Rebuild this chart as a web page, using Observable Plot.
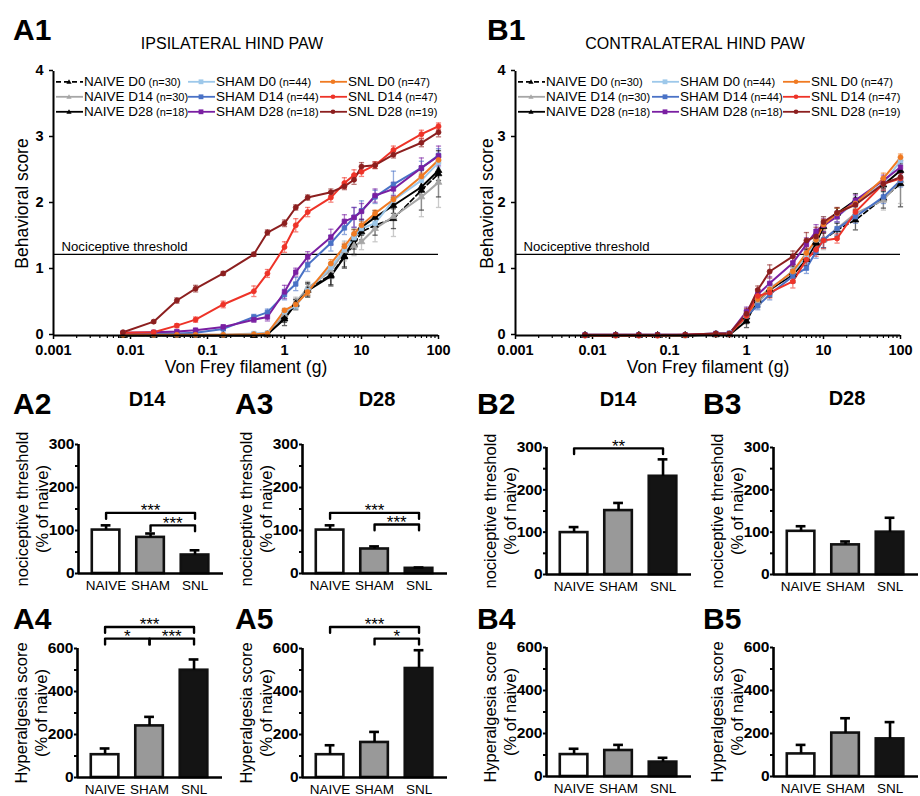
<!DOCTYPE html>
<html>
<head>
<meta charset="utf-8">
<script src="https://cdn.jsdelivr.net/npm/d3@7"></script>
<script src="https://cdn.jsdelivr.net/npm/@observablehq/plot@0.6"></script>
<style>
html,body{margin:0;padding:0;background:#fff;}
#fig{position:relative;width:920px;height:796px;overflow:hidden;font-family:"Liberation Sans",Arial,Helvetica,sans-serif;color:#000;}
#fig > svg{position:absolute;overflow:visible;}
.t{position:absolute;white-space:nowrap;line-height:1;}
.lab{font-weight:bold;font-size:30px;transform:translate(0,-50%);}
.sub{font-weight:bold;font-size:20px;transform:translate(-50%,-50%);}
.ttl{font-size:16px;transform:translate(-50%,-50%);}
.leg{position:absolute;display:flex;align-items:center;white-space:nowrap;height:14px;transform:translate(0,-50%);font-size:13.5px;line-height:1;}
.leg small{font-size:11px;margin-left:3px;}
.leg svg{display:block;margin-right:1px;}
</style>
</head>
<body>
<div id="fig"></div>
<script>
// ---------------- data ----------------
const forces = [0.008, 0.02, 0.04, 0.07, 0.16, 0.4, 0.6, 1, 1.4, 2, 4, 6, 8, 10, 15, 26, 60, 100];
const decadeTicks = [0.001, 0.01, 0.1, 1, 10, 100];
const scoreTicks = [0, 1, 2, 3, 4];
const seriesNames = ["NAIVE D0","NAIVE D14","NAIVE D28","SHAM D0","SHAM D14","SHAM D28","SNL D0","SNL D14","SNL D28"];
const seriesN = [30, 30, 18, 44, 44, 18, 47, 47, 19];
const threshold = 1.23;

const ipsiMean = {
  "NAIVE D0":  [0,0,0,0,0,0,0.01,0.28,0.47,0.70,0.92,1.20,1.38,1.57,1.67,1.77,2.20,2.45],
  "NAIVE D14": [0,0,0,0,0,0,0.01,0.32,0.50,0.72,0.98,1.28,1.36,1.42,1.62,1.80,2.10,2.32],
  "NAIVE D28": [0,0,0,0,0,0,0.02,0.25,0.48,0.68,0.90,1.19,1.46,1.64,1.79,1.97,2.25,2.50],
  "SHAM D0":   [0.02,0.01,0.01,0.01,0.01,0.03,0.04,0.36,0.45,0.68,1.03,1.30,1.48,1.62,1.70,2.05,2.35,2.62],
  "SHAM D14":  [0.03,0.04,0.03,0.04,0.10,0.28,0.35,0.62,0.78,1.07,1.40,1.63,1.79,1.89,2.10,2.29,2.54,2.73],
  "SHAM D28":  [0.04,0.05,0.06,0.08,0.13,0.24,0.28,0.66,0.96,1.19,1.49,1.73,1.79,1.88,2.12,2.22,2.54,2.72],
  "SNL D0":    [0.01,0.01,0.01,0.01,0.01,0.02,0.03,0.38,0.47,0.66,1.09,1.35,1.54,1.67,1.85,2.06,2.41,2.66],
  "SNL D14":   [0.04,0.05,0.15,0.24,0.47,0.67,0.94,1.34,1.67,1.87,2.09,2.31,2.43,2.48,2.58,2.81,3.05,3.17],
  "SNL D28":   [0.05,0.21,0.53,0.71,0.94,1.23,1.56,1.70,1.94,2.09,2.17,2.26,2.36,2.56,2.58,2.74,2.92,3.08]
};
const ipsiErr = {
  "NAIVE D0":  [0,0,0,0,0,0,0.01,0.08,0.08,0.10,0.15,0.18,0.15,0.12,0.15,0.15,0.30,0.35],
  "NAIVE D14": [0,0,0,0,0,0.01,0.02,0.07,0.08,0.10,0.12,0.15,0.15,0.12,0.20,0.30,0.30,0.38],
  "NAIVE D28": [0,0,0,0,0,0,0.02,0.10,0.06,0.10,0.15,0.15,0.15,0.12,0.10,0.12,0.12,0.15],
  "SHAM D0":   [0.01,0.01,0.01,0.01,0.01,0.02,0.02,0.05,0.05,0.06,0.08,0.09,0.09,0.08,0.08,0.09,0.08,0.08],
  "SHAM D14":  [0.01,0.01,0.01,0.01,0.02,0.04,0.05,0.08,0.10,0.10,0.12,0.10,0.15,0.15,0.10,0.20,0.10,0.10],
  "SHAM D28":  [0.01,0.02,0.02,0.03,0.03,0.04,0.06,0.10,0.06,0.08,0.12,0.10,0.15,0.12,0.10,0.10,0.15,0.15],
  "SNL D0":    [0.01,0.01,0.01,0.01,0.01,0.01,0.02,0.03,0.04,0.05,0.06,0.05,0.06,0.06,0.05,0.05,0.05,0.05],
  "SNL D14":   [0.01,0.02,0.03,0.04,0.05,0.08,0.06,0.08,0.10,0.07,0.07,0.08,0.08,0.07,0.05,0.06,0.06,0.05],
  "SNL D28":   [0.01,0.02,0.04,0.05,0.03,0.03,0.04,0.05,0.04,0.04,0.05,0.05,0.07,0.06,0.05,0.05,0.06,0.07]
};
const contraMean = {
  "NAIVE D0":  [0,0,0,0,0,0.02,0.02,0.28,0.52,0.68,0.95,1.18,1.42,1.45,1.60,1.75,2.08,2.30],
  "NAIVE D14": [0,0,0,0,0,0.02,0.02,0.30,0.50,0.68,0.98,1.20,1.45,1.45,1.62,1.85,2.05,2.35],
  "NAIVE D28": [0,0,0,0,0,0.01,0.01,0.22,0.55,0.70,0.92,1.15,1.40,1.65,1.85,2.05,2.28,2.50],
  "SHAM D0":   [0.01,0.01,0.01,0.01,0.01,0.03,0.04,0.30,0.55,0.72,0.95,1.20,1.45,1.70,1.80,2.02,2.30,2.65],
  "SHAM D14":  [0,0,0,0,0,0.02,0.02,0.30,0.45,0.62,0.90,1.02,1.27,1.45,1.62,1.80,2.10,2.35],
  "SHAM D28":  [0.01,0.01,0.01,0.01,0.01,0.03,0.03,0.36,0.62,0.79,1.10,1.38,1.58,1.67,1.80,2.05,2.35,2.55],
  "SNL D0":    [0,0,0,0,0,0.02,0.02,0.30,0.55,0.70,0.97,1.25,1.45,1.68,1.85,2.00,2.38,2.70],
  "SNL D14":   [0,0,0,0,0.01,0.02,0.02,0.30,0.60,0.65,0.82,1.15,1.30,1.44,1.47,1.87,2.30,2.38],
  "SNL D28":   [0.01,0.01,0.01,0.01,0.01,0.03,0.03,0.33,0.69,0.97,1.20,1.44,1.50,1.72,1.86,1.98,2.30,2.40]
};
const contraErr = {
  "NAIVE D0":  [0,0,0,0,0,0,0,0.10,0.08,0.10,0.12,0.12,0.12,0.12,0.10,0.15,0.15,0.35],
  "NAIVE D14": [0,0,0,0,0,0,0,0.08,0.08,0.08,0.10,0.12,0.12,0.15,0.10,0.12,0.15,0.35],
  "NAIVE D28": [0,0,0,0,0,0,0,0.10,0.06,0.08,0.12,0.10,0.10,0.10,0.08,0.10,0.10,0.10],
  "SHAM D0":   [0.01,0,0,0,0,0.01,0.02,0.06,0.06,0.06,0.08,0.08,0.10,0.10,0.08,0.08,0.08,0.06],
  "SHAM D14":  [0,0,0,0,0,0.01,0.02,0.08,0.06,0.08,0.10,0.08,0.10,0.12,0.10,0.10,0.10,0.10],
  "SHAM D28":  [0.01,0,0,0,0,0.01,0.02,0.07,0.08,0.10,0.10,0.10,0.10,0.10,0.08,0.08,0.08,0.08],
  "SNL D0":    [0,0,0,0,0,0.01,0.01,0.06,0.06,0.08,0.10,0.10,0.10,0.08,0.08,0.08,0.08,0.05],
  "SNL D14":   [0,0,0,0,0.01,0.01,0.01,0.06,0.07,0.08,0.10,0.10,0.10,0.12,0.07,0.10,0.10,0.08],
  "SNL D28":   [0.01,0,0,0,0,0.01,0.01,0.08,0.06,0.10,0.08,0.12,0.14,0.08,0.08,0.08,0.08,0.06]
};

const groups = ["NAIVE", "SHAM", "SNL"];
const thrTicks = [0, 100, 200, 300];
const hypTicks = [0, 200, 400, 600];
const a2Mean = [101, 84, 43],  a2Err = [11, 9, 11];
const a3Mean = [101, 57, 12],  a3Err = [11, 6, 2];
const a4Mean = [106, 240, 499], a4Err = [29, 42, 50];
const a5Mean = [106, 163, 507], a5Err = [44, 49, 85];
const b2Mean = [99, 151, 232], b2Err = [13, 18, 40];
const b3Mean = [102, 70, 100], b3Err = [12, 8, 34];
const b4Mean = [102, 121, 67], b4Err = [27, 26, 20];
const b5Mean = [105, 202, 175], b5Err = [42, 69, 78];
// brackets: [fromIndex, toIndex, level, label]
const a2Sig = [[0, 2, 141, "***"], [1, 2, 112, "***"]];
const a3Sig = [[0, 2, 141, "***"], [1, 2, 114, "***"]];
const a4Sig = [[0, 2, 700, "***"], [0, 1, 646, "*"], [1, 2, 646, "***"]];
const a5Sig = [[0, 2, 700, "***"], [1, 2, 646, "*"]];
const b2Sig = [[0, 2, 298, "**"]];

// ---------------- styles ----------------
const seriesColors = ["#000000","#a6a6a6","#000000","#9dc8ea","#4a72c6","#7a1fa2","#f07a22","#ee3328","#8c1f1f"];
const seriesSymbols = [d3.symbolTriangle, d3.symbolTriangle, d3.symbolTriangle, d3.symbolSquare, d3.symbolSquare, d3.symbolSquare, d3.symbolCircle, d3.symbolCircle, d3.symbolCircle];
const groupFills = ["#ffffff", "#999999", "#141414"];
const FONT = "Liberation Sans, Arial, Helvetica, sans-serif";
const fig = document.getElementById("fig");

function place(el, left, top) {
  el.style.position = "absolute";
  el.style.left = left + "px";
  el.style.top = top + "px";
  fig.appendChild(el);
}
function addText(cls, txt, left, top) {
  const d = document.createElement("div");
  d.className = "t " + cls;
  d.textContent = txt;
  d.style.left = left + "px";
  d.style.top = top + "px";
  fig.appendChild(d);
}

const capSym = {draw(ctx, size) { const w = Math.sqrt(size / Math.PI); ctx.moveTo(-w, 0); ctx.lineTo(w, 0); }};
const minorLog = [];
[0.001, 0.01, 0.1, 1, 10].forEach(b => { for (let k = 2; k <= 9; k++) minorLog.push(b * k); });

function linePanel(meanObj, errObj, ml, mr, ylabDx) {
  const rows = [];
  seriesNames.forEach(s => forces.forEach((f, k) => rows.push({series: s, f, v: meanObj[s][k], e: errObj[s][k]})));
  const solid = rows.filter(d => d.series !== "NAIVE D0");
  const dashed = rows.filter(d => d.series === "NAIVE D0");
  const errRows = rows.filter(d => d.e > 0);
  return Plot.plot({
    width: 460, height: 310,
    marginLeft: ml, marginRight: mr, marginTop: 11, marginBottom: 35,
    x: {type: "log", domain: [0.001, 100]},
    y: {domain: [0, 4]},
    color: {domain: seriesNames, range: seriesColors},
    symbol: {domain: seriesNames, range: seriesSymbols},
    style: {fontFamily: FONT, fontSize: "13px", background: "transparent", overflow: "visible"},
    marks: [
      Plot.axisX({ticks: minorLog, tickFormat: () => "", tickSize: 3, strokeWidth: 1.2, label: null}),
      Plot.axisX({ticks: decadeTicks, tickFormat: d => String(d), tickSize: 4, tickPadding: 5, fontWeight: "bold", fontSize: 14.5, strokeWidth: 1.5, label: null}),
      Plot.axisY({ticks: scoreTicks, tickFormat: d => String(d), tickSize: 4, tickPadding: 6, fontWeight: "bold", fontSize: 14.5, strokeWidth: 1.5, label: null, dy: -1}),
      Plot.ruleY([threshold], {strokeWidth: 1.2}),
      Plot.text(["Nociceptive threshold"], {y: [threshold], frameAnchor: "left", dx: 8, dy: -8, textAnchor: "start", lineAnchor: "middle", fontSize: 13.2}),
      Plot.ruleX(errRows, {x: "f", y1: d => d.v - d.e, y2: d => d.v + d.e, stroke: "series", strokeOpacity: 0.6, strokeWidth: 1.3}),
      Plot.dot(errRows, {x: "f", y: d => d.v + d.e, stroke: "series", symbol: capSym, r: 2.6, strokeOpacity: 0.6, strokeWidth: 1.3}),
      Plot.dot(errRows, {x: "f", y: d => d.v - d.e, stroke: "series", symbol: capSym, r: 2.6, strokeOpacity: 0.6, strokeWidth: 1.3}),
      Plot.line(dashed, {x: "f", y: "v", stroke: "series", strokeWidth: 1.7, strokeDasharray: "5,3"}),
      Plot.line(solid, {x: "f", y: "v", z: "series", stroke: "series", strokeWidth: 2}),
      Plot.dot(rows, {x: "f", y: "v", fill: "series", stroke: "series", symbol: "series", r: 2.5, strokeWidth: 0.8}),
      Plot.ruleX([0.001], {strokeWidth: 2}),
      Plot.ruleY([0], {strokeWidth: 2}),
      Plot.text(["Behavioral score"], {frameAnchor: "left", dx: ylabDx, rotate: -90, textAnchor: "middle", lineAnchor: "middle", fontSize: 17.5}),
      Plot.text(["Von Frey filament (g)"], {frameAnchor: "bottom", dy: 32, textAnchor: "middle", lineAnchor: "middle", fontSize: 17.5})
    ]
  });
}

function barPanel(means, errs, sig, ymax, ticks, ylabel, mt, mb, h) {
  const rows = groups.map((g, i) => ({g, i, mean: means[i], err: errs[i]}));
  const drop = ymax * 0.045;
  const br = [];
  sig.forEach((b, k) => {
    br.push({k, x: b[0], y: b[2] - drop}, {k, x: b[0], y: b[2]}, {k, x: b[1], y: b[2]}, {k, x: b[1], y: b[2] - drop});
  });
  const minor = ticks.slice(0, -1).map((t, j) => (t + ticks[j + 1]) / 2);
  return Plot.plot({
    width: 227, height: h,
    marginLeft: 80, marginRight: 2, marginTop: mt, marginBottom: mb,
    x: {domain: [-0.62, 2.64]},
    y: {domain: [0, ymax]},
    color: {domain: groups, range: groupFills},
    style: {fontFamily: FONT, fontSize: "13px", background: "transparent", overflow: "visible"},
    marks: [
      Plot.rectY(rows, {x1: d => d.i - 0.31, x2: d => d.i + 0.31, y1: 0, y2: "mean", fill: "g", stroke: "#111", strokeWidth: 2.6}),
      Plot.ruleX(rows, {x: "i", y1: "mean", y2: d => d.mean + d.err, strokeWidth: 2.6}),
      Plot.ruleY(rows, {y: d => d.mean + d.err, x1: d => d.i - 0.11, x2: d => d.i + 0.11, strokeWidth: 2.6}),
      Plot.line(br, {x: "x", y: "y", z: "k", strokeWidth: 2.4}),
      Plot.text(sig, {x: b => (b[0] + b[1]) / 2, y: b => b[2], text: b => b[3], dy: -2, fontSize: 17}),
      Plot.axisY({ticks, tickFormat: d => String(d), tickSize: 3, tickPadding: 1, fontWeight: "bold", fontSize: 15.5, strokeWidth: 2, label: null}),
      Plot.axisY({ticks: minor, tickSize: 3, tickFormat: () => "", strokeWidth: 2, label: null}),
      Plot.axisX({ticks: [0, 1, 2], tickFormat: i => groups[i], tickSize: 0, tickPadding: 7, fontSize: 13.5, label: null}),
      Plot.ruleX([-0.62], {strokeWidth: 2.6}),
      Plot.ruleY([0], {strokeWidth: 2.6}),
      Plot.text([ylabel[0]], {frameAnchor: "left", dx: -56, rotate: -90, textAnchor: "middle", lineAnchor: "middle", fontSize: 16.5}),
      Plot.text([ylabel[1]], {frameAnchor: "left", dx: -36, rotate: -90, textAnchor: "middle", lineAnchor: "middle", fontSize: 16.5})
    ]
  });
}

// ---------------- line panels ----------------
place(linePanel(ipsiMean, ipsiErr, 53, 22, -31), 0, 60);
place(linePanel(contraMean, contraErr, 55, 20, -28), 460, 60);

// legends
function legend(colX) {
  seriesNames.forEach((s, k) => {
    const col = Math.floor(k / 3), row = k % 3;
    const d = document.createElement("div");
    d.className = "leg";
    d.style.left = colX[col] + "px";
    d.style.top = (82 + row * 15) + "px";
    const c = seriesColors[k];
    const dash = s === "NAIVE D0" ? ' stroke-dasharray="5,3"' : "";
    let marker;
    if (col === 0) marker = `<path d="M13,2.2 L15.6,6.8 L10.4,6.8 Z" fill="${c}"/>`;
    else if (col === 1) marker = `<rect x="10.6" y="2.4" width="4.8" height="4.8" fill="${c}"/>`;
    else marker = `<circle cx="13" cy="4.8" r="2.3" fill="${c}"/>`;
    d.innerHTML = `<svg width="27" height="10" viewBox="0 0 27 10"><line x1="0" y1="4.8" x2="27" y2="4.8" stroke="${c}" stroke-width="1.8"${dash}/>${marker}</svg><span>${s}</span><small>(n=${seriesN[k]})</small>`;
    fig.appendChild(d);
  });
}
legend([56, 188, 320]);
legend([518, 652, 783]);

// ---------------- bar panels ----------------
const thrLab = ["nociceptive threshold", "(% of naive)"];
const hypLab = ["Hyperalgesia score", "(% of naive)"];
place(barPanel(a2Mean, a2Err, a2Sig, 300, thrTicks, thrLab, 24, 27, 180), -2, 420);
place(barPanel(a3Mean, a3Err, a3Sig, 300, thrTicks, thrLab, 24, 27, 180), 222, 420);
place(barPanel(b2Mean, b2Err, b2Sig, 300, thrTicks, thrLab, 27, 26, 180), 466, 420);
place(barPanel(b3Mean, b3Err, [], 300, thrTicks, thrLab, 27, 26, 180), 693, 420);
place(barPanel(a4Mean, a4Err, a4Sig, 600, hypTicks, hypLab, 48, 19, 196), -3, 600);
place(barPanel(a5Mean, a5Err, a5Sig, 600, hypTicks, hypLab, 48, 19, 196), 222, 600);
place(barPanel(b4Mean, b4Err, [], 600, hypTicks, hypLab, 47, 20, 196), 466, 600);
place(barPanel(b5Mean, b5Err, [], 600, hypTicks, hypLab, 47, 20, 196), 693, 600);

// ---------------- labels ----------------
addText("lab", "A1", 13, 30);
addText("lab", "B1", 487, 30);
addText("ttl", "IPSILATERAL HIND PAW", 232, 44);
addText("ttl", "CONTRALATERAL HIND PAW", 695, 44);
addText("lab", "A2", 13, 404);
addText("lab", "A3", 235, 404);
addText("lab", "B2", 477, 404);
addText("lab", "B3", 703, 404);
addText("lab", "A4", 13, 619);
addText("lab", "A5", 235, 619);
addText("lab", "B4", 477, 619);
addText("lab", "B5", 703, 619);
addText("sub", "D14", 147, 399);
addText("sub", "D28", 377, 399);
addText("sub", "D14", 618, 399);
addText("sub", "D28", 847, 398);
</script>
</body>
</html>
